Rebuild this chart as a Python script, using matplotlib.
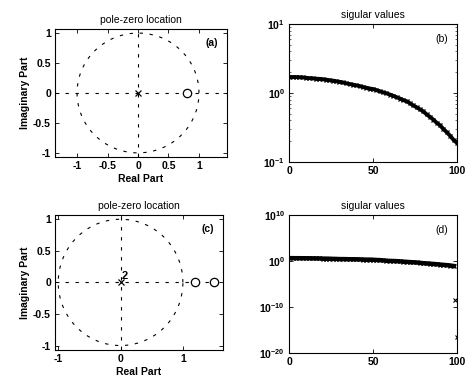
import numpy as np
import matplotlib.pyplot as plt
from matplotlib.ticker import LogLocator, NullLocator

plt.rcParams['font.family'] = ['Liberation Sans', 'DejaVu Sans']
plt.rcParams['font.size'] = 7.5

# pole-zero data
zeros_a = [0.8]
poles_a = [0.0]
zeros_c = [1.2, 1.5]
poles_c = [0.0]   # double pole

# singular values (b), read at x = 0, 2, ..., 100
sv_b_x = list(range(0, 101, 2))
sv_b = [1.70, 1.70, 1.70, 1.69, 1.68, 1.66, 1.64, 1.63, 1.61, 1.60,
        1.58, 1.56, 1.53, 1.51, 1.48, 1.45, 1.42, 1.38, 1.35, 1.32,
        1.29, 1.26, 1.22, 1.19, 1.16, 1.14, 1.10, 1.06, 1.02, 0.99,
        0.95, 0.91, 0.87, 0.83, 0.79, 0.76, 0.71, 0.66, 0.62, 0.58,
        0.54, 0.49, 0.45, 0.41, 0.37, 0.34, 0.30, 0.27, 0.24, 0.21, 0.19]

# singular values (d), read at x = 0, 2, ..., 98 plus two tiny ones
sv_d_x = list(range(0, 99, 2))
sv_d = [4.0, 4.0, 3.9, 3.9, 3.8, 3.8, 3.7, 3.6, 3.5, 3.4,
        3.2, 3.1, 3.0, 2.8, 2.7, 2.5, 2.5, 2.4, 2.3, 2.3,
        2.2, 2.1, 2.0, 1.9, 1.9, 1.8, 1.6, 1.5, 1.3, 1.1,
        1.0, 0.95, 0.9, 0.8, 0.7, 0.63, 0.55, 0.5, 0.45, 0.38,
        0.32, 0.28, 0.25, 0.22, 0.19, 0.16, 0.14, 0.12, 0.10, 0.08]
sv_d_tail_x = [99, 100]
sv_d_tail = [3e-9, 3e-17]

fig = plt.figure(figsize=(4.71, 3.85), dpi=100)

def style(ax):
    ax.tick_params(direction='in', top=True, right=True, length=3,
                   width=0.6, labelsize=7.5, pad=3)
    for lab in ax.get_xticklabels() + ax.get_yticklabels():
        lab.set_fontweight('bold')
    for s in ax.spines.values():
        s.set_linewidth(0.8)

def zplane(ax, zeros, poles, xlim, xticks, label):
    t = np.linspace(0, 2 * np.pi, 400)
    ax.plot(np.cos(t), np.sin(t), color='k', lw=0.8, ls=(0, (3, 6)))
    ax.axhline(0, color='k', lw=0.8, ls=(0, (3, 6)))
    ax.axvline(0, color='k', lw=0.8, ls=(0, (3, 6)))
    ax.plot(zeros, np.zeros(len(zeros)), 'o', mfc='white', mec='k',
            ms=6, mew=0.9)
    ax.plot(poles, np.zeros(len(poles)), 'x', color='k', ms=4, mew=0.9)
    ax.set_xlim(xlim)
    ax.set_ylim(-1.07, 1.07)
    ax.set_xticks(xticks)
    ax.set_yticks([-1, -0.5, 0, 0.5, 1])
    ax.set_yticklabels(['-1', '-0.5', '0', '0.5', '1'])
    ax.set_xticklabels([('%g' % v) for v in xticks])
    ax.set_title('pole-zero location', fontsize=7.5, pad=4)
    ax.set_xlabel('Real Part', fontweight='bold', labelpad=2)
    ax.set_ylabel('Imaginary Part', fontweight='bold', labelpad=2)
    ax.text(0.95, 0.93, label, transform=ax.transAxes, ha='right',
            va='top', fontweight='bold')
    style(ax)

ax_a = fig.add_axes([0.117, 0.592, 0.365, 0.333])
zplane(ax_a, zeros_a, poles_a, (-1.36, 1.46), [-1, -0.5, 0, 0.5, 1], '(a)')

ax_c = fig.add_axes([0.117, 0.091, 0.356, 0.351])
zplane(ax_c, zeros_c, poles_c, (-1.05, 1.64), [-1, 0, 1], '(c)')
ax_c.text(0.02, 0.06, '2', fontweight='bold', fontsize=8)

ax_b = fig.add_axes([0.614, 0.579, 0.356, 0.359])
ax_b.semilogy(sv_b_x, sv_b, 'k-x', lw=2.8, ms=3.5, mew=0.9)
ax_b.set_xlim(0, 100)
ax_b.set_ylim(0.1, 10)
ax_b.set_xticks([0, 50, 100])
ax_b.yaxis.set_major_locator(LogLocator(base=10, numticks=5))
ax_b.set_title('sigular values', fontsize=7.5, pad=4)
ax_b.text(0.95, 0.93, '(b)', transform=ax_b.transAxes, ha='right', va='top')
style(ax_b)
ax_b.tick_params(which='minor', direction='in', top=True, right=True,
                 length=1.5, width=0.4)

ax_d = fig.add_axes([0.614, 0.083, 0.356, 0.359])
ax_d.semilogy(sv_d_x, sv_d, 'k-x', lw=3.2, ms=3.5, mew=0.9)
ax_d.semilogy(sv_d_tail_x, sv_d_tail, 'kx', ms=3, mew=0.8)
ax_d.set_xlim(0, 100)
ax_d.set_ylim(1e-20, 1e10)
ax_d.set_xticks([0, 50, 100])
ax_d.set_yticks([1e-20, 1e-10, 1e0, 1e10])
ax_d.yaxis.set_minor_locator(NullLocator())
ax_d.set_title('sigular values', fontsize=7.5, pad=4)
ax_d.text(0.95, 0.93, '(d)', transform=ax_d.transAxes, ha='right', va='top')
style(ax_d)

fig.savefig('out.png', dpi=100)
